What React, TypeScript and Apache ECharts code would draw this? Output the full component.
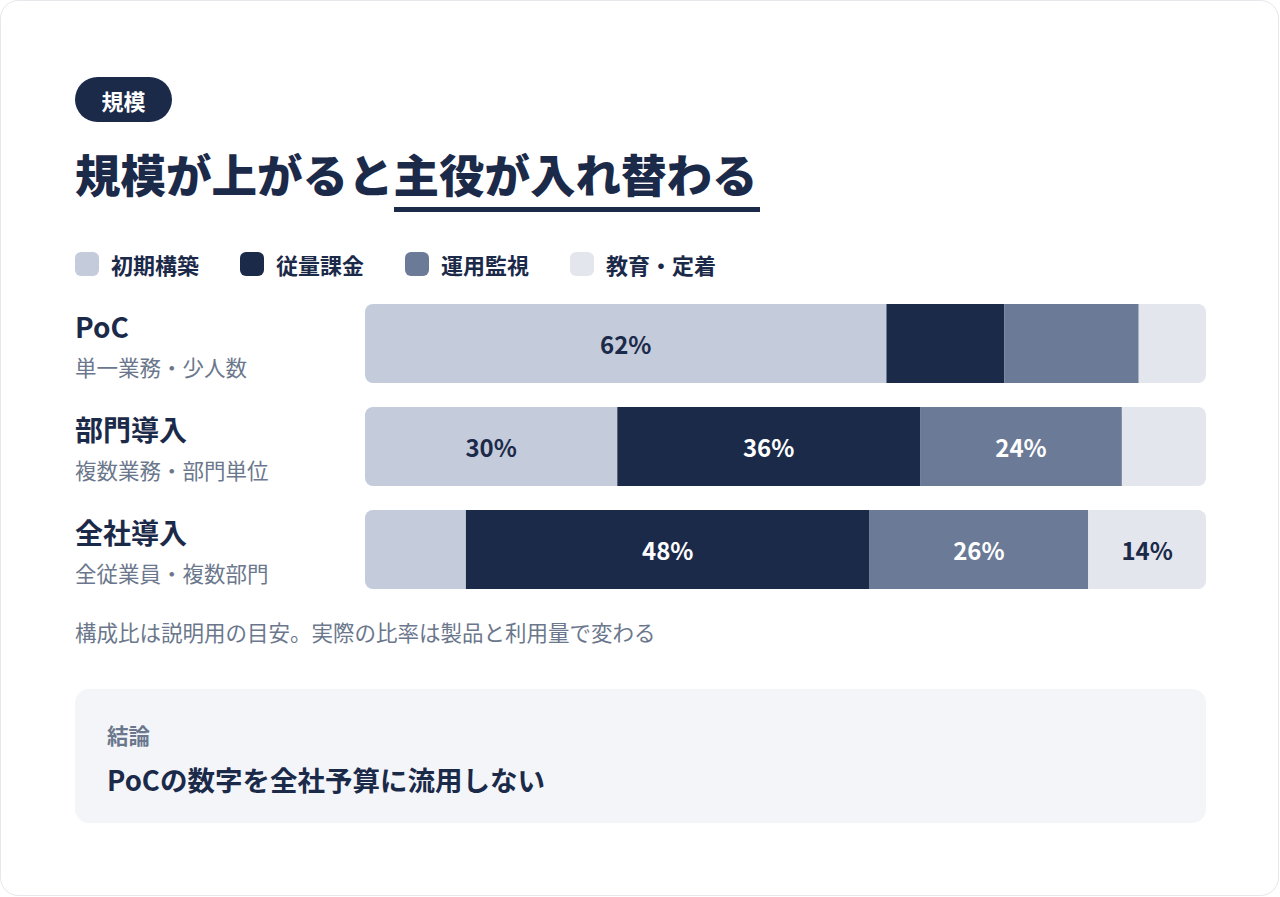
import React, { useEffect, useRef } from "react";
import * as echarts from "echarts";

const stages = ["PoC", "部門導入", "全社導入"];
const stageNotes = ["単一業務・少人数", "複数業務・部門単位", "全従業員・複数部門"];

const seriesNames = ["初期構築", "従量課金", "運用監視", "教育・定着"];
const initialBuild = [62, 30, 12];
const usageBilling = [14, 36, 48];
const operations = [16, 24, 26];
const training = [8, 10, 14];
// which segments carry a percentage label
const shownLabels = [
    [true, true, false],
    [false, true, true],
    [false, true, true],
    [false, false, true],
];

const navy = "#1c2a4a";
const slate = "#6b778c";
const colors = ["#c4cbda", navy, "#6b7a96", "#e3e7ed"];
const labelColors = [navy, "#ffffff", "#ffffff", navy];
const font = "'Noto Sans CJK JP', 'Noto Sans', sans-serif";

const App: React.FC = () => {
    const chartRef = useRef<HTMLDivElement>(null);

    useEffect(() => {
        document.body.style.margin = "0";
        if (!chartRef.current) return;
        const chart = echarts.init(chartRef.current, null, { renderer: "svg" });

        const values = [initialBuild, usageBilling, operations, training];
        const radii = [
            [8, 0, 0, 8],
            0,
            0,
            [0, 8, 8, 0],
        ];

        chart.setOption({
            animation: false,
            textStyle: { fontFamily: font },
            grid: { left: 365, right: 74, top: 292, height: 309 },
            legend: {
                left: 75,
                top: 252,
                itemWidth: 24,
                itemHeight: 24,
                itemGap: 41,
                icon: "roundRect",
                padding: 0,
                selectedMode: false,
                data: seriesNames,
                textStyle: {
                    fontFamily: font,
                    fontSize: 22,
                    fontWeight: "bold",
                    color: navy,
                    padding: [0, 0, 0, 7],
                },
            },
            xAxis: {
                type: "value",
                min: 0,
                max: 100,
                show: false,
            },
            yAxis: {
                type: "category",
                data: stages,
                inverse: true,
                axisLine: { show: false },
                axisTick: { show: false },
                axisLabel: {
                    align: "left",
                    margin: 290,
                    formatter: (v: string, i: number) => `{n|${v}}\n{s|${stageNotes[i]}}`,
                    rich: {
                        n: { fontFamily: font, fontSize: 28, fontWeight: "bold", color: navy, lineHeight: 45 },
                        s: { fontFamily: font, fontSize: 21.5, color: slate, lineHeight: 36 },
                    },
                },
            },
            series: seriesNames.map((name, si) => ({
                name,
                type: "bar",
                stack: "total",
                barWidth: 79,
                itemStyle: { color: colors[si], borderRadius: radii[si] },
                label: {
                    show: true,
                    position: "inside",
                    fontFamily: font,
                    fontSize: 24,
                    fontWeight: "bold",
                    color: labelColors[si],
                    formatter: "{c}%",
                },
                data: values[si].map((v, ci) => ({
                    value: v,
                    label: { show: shownLabels[si][ci] },
                })),
            })),
            graphic: [
                {
                    type: "rect",
                    z: -10,
                    silent: true,
                    shape: { x: 0.5, y: 0.5, width: 1278, height: 895, r: 18 },
                    style: { fill: "#ffffff", stroke: "#e5e7eb", lineWidth: 1 },
                },
                {
                    type: "rect",
                    shape: { x: 75, y: 77, width: 97, height: 45, r: 22.5 },
                    style: { fill: navy },
                },
                {
                    type: "text",
                    x: 123.5,
                    y: 99.5,
                    style: {
                        text: "規模",
                        fontFamily: font,
                        fontSize: 22,
                        fontWeight: "bold",
                        fill: "#ffffff",
                        align: "center",
                        verticalAlign: "middle",
                    },
                },
                {
                    type: "text",
                    x: 75,
                    y: 173,
                    style: {
                        text: "規模が上がると主役が入れ替わる",
                        fontFamily: font,
                        fontSize: 45.5,
                        fontWeight: 900,
                        fill: navy,
                        verticalAlign: "middle",
                    },
                },
                {
                    type: "rect",
                    shape: { x: 394, y: 207, width: 366, height: 5 },
                    style: { fill: navy },
                },
                {
                    type: "text",
                    x: 75,
                    y: 631,
                    style: {
                        text: "構成比は説明用の目安。実際の比率は製品と利用量で変わる",
                        fontFamily: font,
                        fontSize: 21.5,
                        fill: slate,
                        verticalAlign: "middle",
                    },
                },
                {
                    type: "rect",
                    shape: { x: 75, y: 689, width: 1131, height: 134, r: 14 },
                    style: { fill: "#f3f5f9" },
                },
                {
                    type: "text",
                    x: 107,
                    y: 734,
                    style: {
                        text: "結論",
                        fontFamily: font,
                        fontSize: 21.5,
                        fontWeight: "bold",
                        fill: slate,
                        verticalAlign: "middle",
                    },
                },
                {
                    type: "text",
                    x: 107,
                    y: 779,
                    style: {
                        text: "PoCの数字を全社予算に流用しない",
                        fontFamily: font,
                        fontSize: 27.5,
                        fontWeight: "bold",
                        fill: navy,
                        verticalAlign: "middle",
                    },
                },
            ],
        });

        return () => {
            chart.dispose();
        };
    }, []);

    return <div ref={chartRef} style={{ width: 1280, height: 897 }} />;
};

export default App;
